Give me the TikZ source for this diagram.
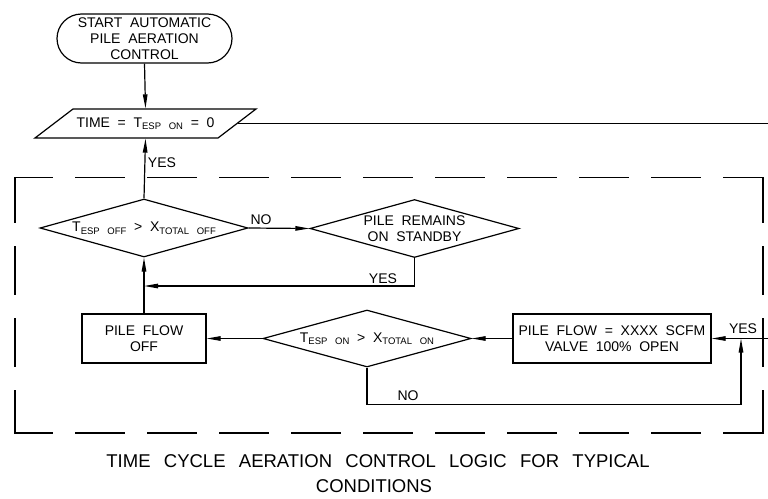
\documentclass[tikz,border=0pt]{standalone}
\usepackage{fontspec}
\setmainfont{Liberation Sans}
\usetikzlibrary{arrows.meta,shapes.geometric}
\newcommand\sbs[1]{\raisebox{-2.5pt}{\fontsize{9.5}{10}\selectfont #1}}
\begin{document}
\begin{tikzpicture}[x=1pt,y=-1pt,line width=1.2pt,
  >={Triangle[length=14pt,width=4.5pt]},
  txt/.style={font={\fontsize{14}{16}\selectfont\spaceskip=0.55em\relax},align=center},
  term/.style={draw,txt,rounded corners=24.5pt,minimum width=175pt,minimum height=49pt,inner sep=0pt},
  dia/.style={draw,diamond,txt,aspect=3.6,inner sep=0pt,minimum width=208pt,minimum height=58pt},
  box/.style={draw,rectangle,txt,inner sep=0pt,minimum height=49pt},
  lbl/.style={txt,inner sep=0pt},
  ttl/.style={font={\fontsize{18.5}{25}\selectfont\spaceskip=0.72em\relax},anchor=base,inner sep=0pt},
  hdash/.style={dash pattern=on 48pt off 24pt,dash phase=11pt,line cap=rect},
  vdash/.style={dash pattern=on 48pt off 24pt,dash phase=3pt,line cap=rect}]
\useasboundingbox (0,0) rectangle (768,498);
% dashed boundary
\draw[hdash] (15,177.5) -- (763,177.5);
\draw[hdash] (15,433) -- (763,433);
\draw[vdash] (15,177.5) -- (15,433);
\draw[vdash] (763,177.5) -- (763,433);
% nodes
\node[term] (start) at (144.5,38.5) {START AUTOMATIC\\PILE AERATION\\CONTROL};
\draw (35,138) -- (73,109) -- (256,109) -- (218,138) -- cycle;
\node[txt,minimum width=183pt,minimum height=29pt,inner sep=0pt] (para) at (145.5,123.5) {TIME = T\sbs{ESP ON} = 0};
\node[dia] (d1) at (144,228) {T\sbs{ESP OFF} > X\sbs{TOTAL OFF}};
\node[dia,minimum width=209pt] (d2) at (414.5,228.5) {PILE REMAINS\\ON STANDBY};
\node[dia,minimum height=57pt] (d3) at (367,338.5) {T\sbs{ESP ON} > X\sbs{TOTAL ON}};
\node[box,minimum width=124pt] (b1) at (144,338.5) {PILE FLOW\\OFF};
\node[box,minimum width=198pt] (b2) at (612,338.5) {PILE FLOW = XXXX SCFM\\VALVE 100\% OPEN};
\coordinate (e1) at (768,123.5);
\coordinate (e2) at (768,338.5);
\coordinate (j1) at (144,286);
\coordinate (j2) at (741,338.5);
\coordinate (c1) at (414.5,286);
\coordinate (c2) at (367,404.5);
\coordinate (c3) at (741,404.5);
% connectors
\draw[->] (start.south) -- (para.north);
\draw (para.east) -- (e1);
\draw[->] (d1.north) -- (para.south);
\draw[->] (d1.east) -- (d2.west);
\draw[->] (d2.south) -- (c1) -- (j1);
\draw[->] (b1.north) -- (d1.south);
\draw[->] (d3.west) -- (b1.east);
\draw[->] (b2.west) -- (d3.east);
\draw[->] (e2) -- (b2.east);
\draw[->] (d3.south) -- (c2) -- (c3) -- (j2);
% labels
\node[lbl] (yes1) at (162,163) {YES};
\node[lbl] (no1) at (261,220) {NO};
\node[lbl] (yes2) at (383,279) {YES};
\node[lbl] (yes3) at (743,329) {YES};
\node[lbl] (no2) at (408,396) {NO};
% title
\node[ttl] (t1) at (378,467) {TIME CYCLE AERATION CONTROL LOGIC FOR TYPICAL};
\node[ttl] (t2) at (374,492) {CONDITIONS};
\end{tikzpicture}
\end{document}
